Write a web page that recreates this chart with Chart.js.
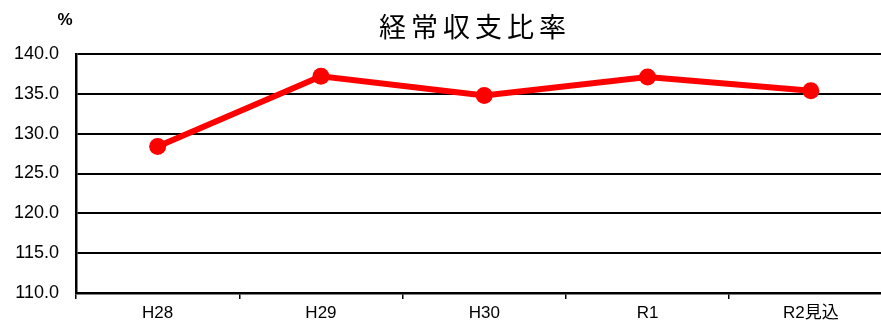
<!DOCTYPE html>
<html>
<head>
<meta charset="utf-8">
<script src="https://cdn.jsdelivr.net/npm/chart.js@4/dist/chart.umd.min.js"></script>
<style>
  html, body { margin: 0; padding: 0; background: #fff; overflow: hidden; }
  #wrap { position: relative; width: 901px; height: 324px; }
</style>
</head>
<body>
<div id="wrap"><canvas id="c" width="901" height="324"></canvas></div>
<script>
// 経常収支比率 (%) by fiscal year
const categories = ['H28', 'H29', 'H30', 'R1', 'R2見込'];
const ratioValues = [128.4, 137.2, 134.8, 137.1, 135.4];
const yTickValues = [110, 115, 120, 125, 130, 135, 140];

const chartTitle = '経常収支比率';
const unitLabel = '%';

const FONT = '"Liberation Sans", Arial, "Noto Sans CJK JP", sans-serif';

// Title and unit label drawn above the plot
const headerPlugin = {
  id: 'header',
  afterDraw(chart) {
    const ctx = chart.ctx;
    ctx.save();
    ctx.fillStyle = '#000';
    ctx.textBaseline = 'middle';
    // title, letter-spaced
    ctx.font = '27px "Noto Sans CJK JP", sans-serif';
    const chars = Array.from(chartTitle);
    const pitch = 32;
    const startX = 379;
    ctx.textAlign = 'left';
    chars.forEach((ch, i) => ctx.fillText(ch, startX + i * pitch, 27));
    // unit
    ctx.font = 'bold 17px ' + FONT;
    ctx.textAlign = 'center';
    ctx.fillText(unitLabel, 65, 20);
    ctx.restore();
  }
};

new Chart(document.getElementById('c'), {
  type: 'line',
  data: {
    labels: categories,
    datasets: [{
      data: ratioValues,
      borderColor: '#ff0000',
      backgroundColor: '#ff0000',
      borderWidth: 6,
      pointRadius: 8.5,
      pointHoverRadius: 8.5,
      pointBorderWidth: 0,
      tension: 0,
      clip: false
    }]
  },
  options: {
    responsive: false,
    animation: false,
    events: [],
    layout: { padding: { top: 54, right: 1, left: 0, bottom: 0 } },
    plugins: {
      legend: { display: false },
      title: { display: false },
      tooltip: { enabled: false }
    },
    scales: {
      x: {
        offset: true,
        grid: {
          offset: true,
          drawOnChartArea: false,
          drawTicks: true,
          tickLength: 6,
          color: '#000',
          lineWidth: 1.5
        },
        border: { color: '#000', width: 2.5 },
        ticks: {
          color: '#000',
          font: { family: FONT, size: 17 },
          padding: 4,
          maxRotation: 0,
          autoSkip: false
        },
        afterFit(scale) { scale.height = 31; }
      },
      y: {
        min: 110,
        max: 140,
        afterBuildTicks(scale) {
          scale.ticks = yTickValues.map(v => ({ value: v }));
        },
        grid: {
          color: '#000',
          lineWidth: 2,
          drawTicks: false
        },
        border: { color: '#000', width: 2.5 },
        ticks: {
          color: '#000',
          font: { family: FONT, size: 18 },
          padding: 17,
          callback: v => Number(v).toFixed(1)
        },
        afterFit(scale) { scale.width = 76; }
      }
    }
  },
  plugins: [headerPlugin]
});
</script>
</body>
</html>
